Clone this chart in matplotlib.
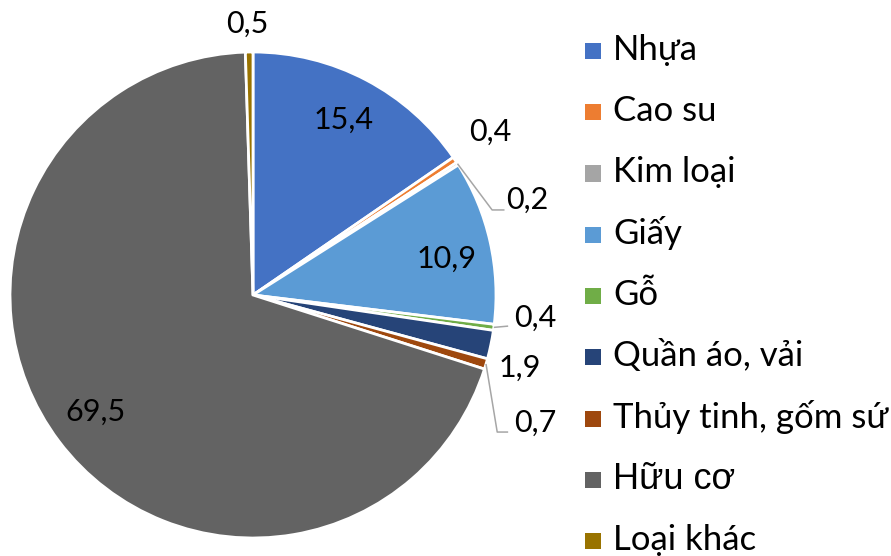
import matplotlib
matplotlib.use("Agg")
import matplotlib.pyplot as plt
from matplotlib.patches import Rectangle
import numpy as np

plt.rcParams['font.family'] = ['Lato', 'DejaVu Sans']

categories = ["Nhựa", "Cao su", "Kim loại", "Giấy", "Gỗ", "Quần áo, vải",
              "Thủy tinh, gốm sứ", "Hữu cơ", "Loại khác"]
values = [15.4, 0.4, 0.2, 10.9, 0.4, 1.9, 0.7, 69.5, 0.5]
value_labels = ["15,4", "0,4", "0,2", "10,9", "0,4", "1,9", "0,7", "69,5", "0,5"]
colors = ["#4472C4", "#ED7D31", "#A5A5A5", "#5B9BD5", "#70AD47", "#264478",
          "#9E480E", "#636363", "#997300"]

W, H = 891, 556
fig = plt.figure(figsize=(W / 100, H / 100), dpi=100)

# pie geometry in pixels
cx, cy, R = 253, 295, 243
ax = fig.add_axes([(cx - R) / W, (H - cy - R) / H, 2 * R / W, 2 * R / H])

wedges, _ = ax.pie(values, colors=colors, startangle=90, counterclock=False,
                   radius=1.0, center=(0, 0),
                   wedgeprops=dict(edgecolor="white", linewidth=2.0))
ax.set_xlim(-1, 1)
ax.set_ylim(-1, 1)
ax.set_aspect("auto")
ax.axis("off")

# label layout (data units of the pie axes)
label_pos = [(0.372, 0.72), (0.975, 0.67), (1.13, 0.39), (0.795, 0.15),
             (1.16, -0.095), (1.097, -0.30), (1.16, -0.525), (-0.65, -0.48),
             (-0.023, 1.115)]
leader = {2: [(0.984, 0.35), (1.035, 0.35)],
          4: [(1.05, -0.128)],
          6: [(1.005, -0.564), (1.05, -0.564)]}

for i, (w, lab) in enumerate(zip(wedges, value_labels)):
    x, y = label_pos[i]
    ax.text(x, y, lab, ha="center", va="center", fontsize=22, color="black",
            clip_on=False)
    if i in leader:
        mid = np.deg2rad((w.theta1 + w.theta2) / 2)
        pts = [(np.cos(mid), np.sin(mid))] + leader[i]
        xs, ys = zip(*pts)
        ax.plot(xs, ys, color="#A6A6A6", lw=1.1, clip_on=False,
                solid_capstyle="butt")

# legend
row0, step = 51, 61.25
for i, (cat, col) in enumerate(zip(categories, colors)):
    yc = row0 + i * step
    sq = 16
    fig.patches.append(Rectangle((585 / W, (H - yc - sq / 2) / H), sq / W, sq / H,
                                 transform=fig.transFigure, facecolor=col,
                                 edgecolor="none"))
    if cat == "Hữu cơ":
        fam, fs = ['Liberation Sans', 'DejaVu Sans'], 26
    else:
        fam, fs = ['Lato', 'DejaVu Sans'], 25
    fig.text(613 / W, (H - yc - 9) / H, cat, ha="left", va="baseline",
             fontsize=fs, family=fam, color="black")

fig.savefig("out.png", dpi=100)
